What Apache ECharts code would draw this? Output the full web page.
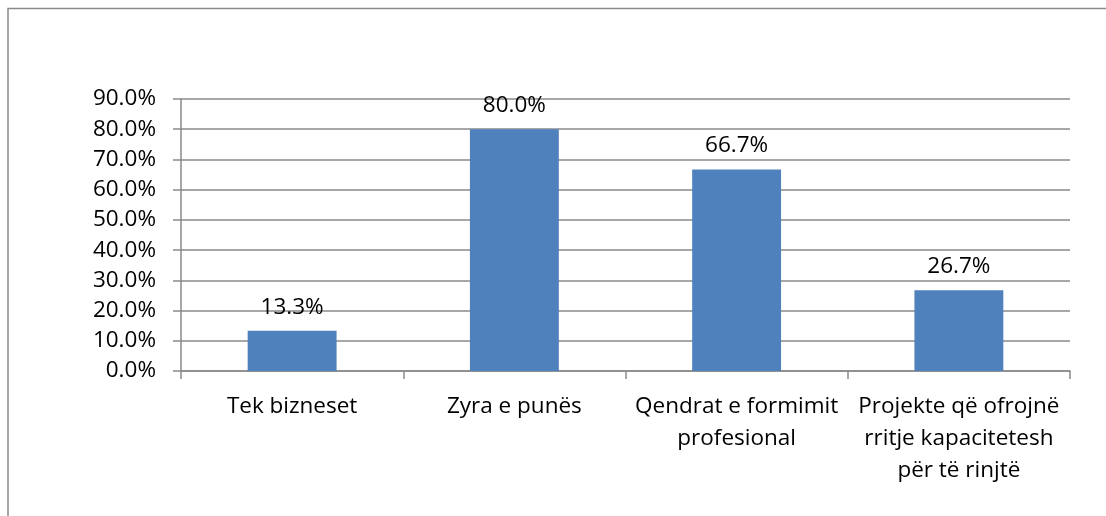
<!DOCTYPE html>
<html><head><meta charset="utf-8">
<script src="https://cdn.jsdelivr.net/npm/echarts@6/dist/echarts.min.js"></script>
<style>html,body{margin:0;padding:0;background:#fff}#c{width:1106px;height:516px}</style>
</head><body><div id="c"></div>
<script>
const categories = ['Tek bizneset', 'Zyra e punës', 'Qendrat e formimit\nprofesional', 'Projekte që ofrojnë\nrritje kapacitetesh\npër të rinjtë'];
const values = [13.3, 80.0, 66.7, 26.7];
const yTicks = { min: 0, max: 90, interval: 10 };
const FONT = 'Open Sans';
const FS = 22.5;
const chart = echarts.init(document.getElementById('c'));
chart.setOption({
  animation: false,
  grid: { left: 181, right: 36, top: 99, bottom: 145 },
  graphic: [
    { type: 'polyline', shape: { points: [[8, 516], [8, 8.5], [1106, 8.5]] }, style: { stroke: '#8a8a8a', lineWidth: 1.5, fill: null } }
  ],
  xAxis: {
    type: 'category', data: categories,
    axisLine: { lineStyle: { color: '#8a8a8a', width: 1.5 } },
    axisTick: { show: true, length: 8, alignWithLabel: false, lineStyle: { color: '#8a8a8a', width: 1.5 } },
    axisLabel: { color: '#000', fontFamily: FONT, fontSize: FS, lineHeight: 32, margin: 20, interval: 0 }
  },
  yAxis: {
    type: 'value', min: yTicks.min, max: yTicks.max, interval: yTicks.interval,
    axisLine: { show: true, lineStyle: { color: '#8a8a8a', width: 1.5 } },
    axisTick: { show: true, length: 8, lineStyle: { color: '#8a8a8a', width: 1.5 } },
    splitLine: { lineStyle: { color: '#8a8a8a', width: 1.5 } },
    axisLabel: { color: '#000', fontFamily: FONT, fontSize: FS, margin: 25, formatter: v => v.toFixed(1) + '%' }
  },
  series: [{
    type: 'bar', data: values, barCategoryGap: '60%',
    itemStyle: { color: '#4F81BD' },
    label: { show: true, position: 'top', distance: 12, color: '#000', fontFamily: FONT, fontSize: FS, formatter: p => p.value.toFixed(1) + '%' }
  }]
});
</script></body></html>
